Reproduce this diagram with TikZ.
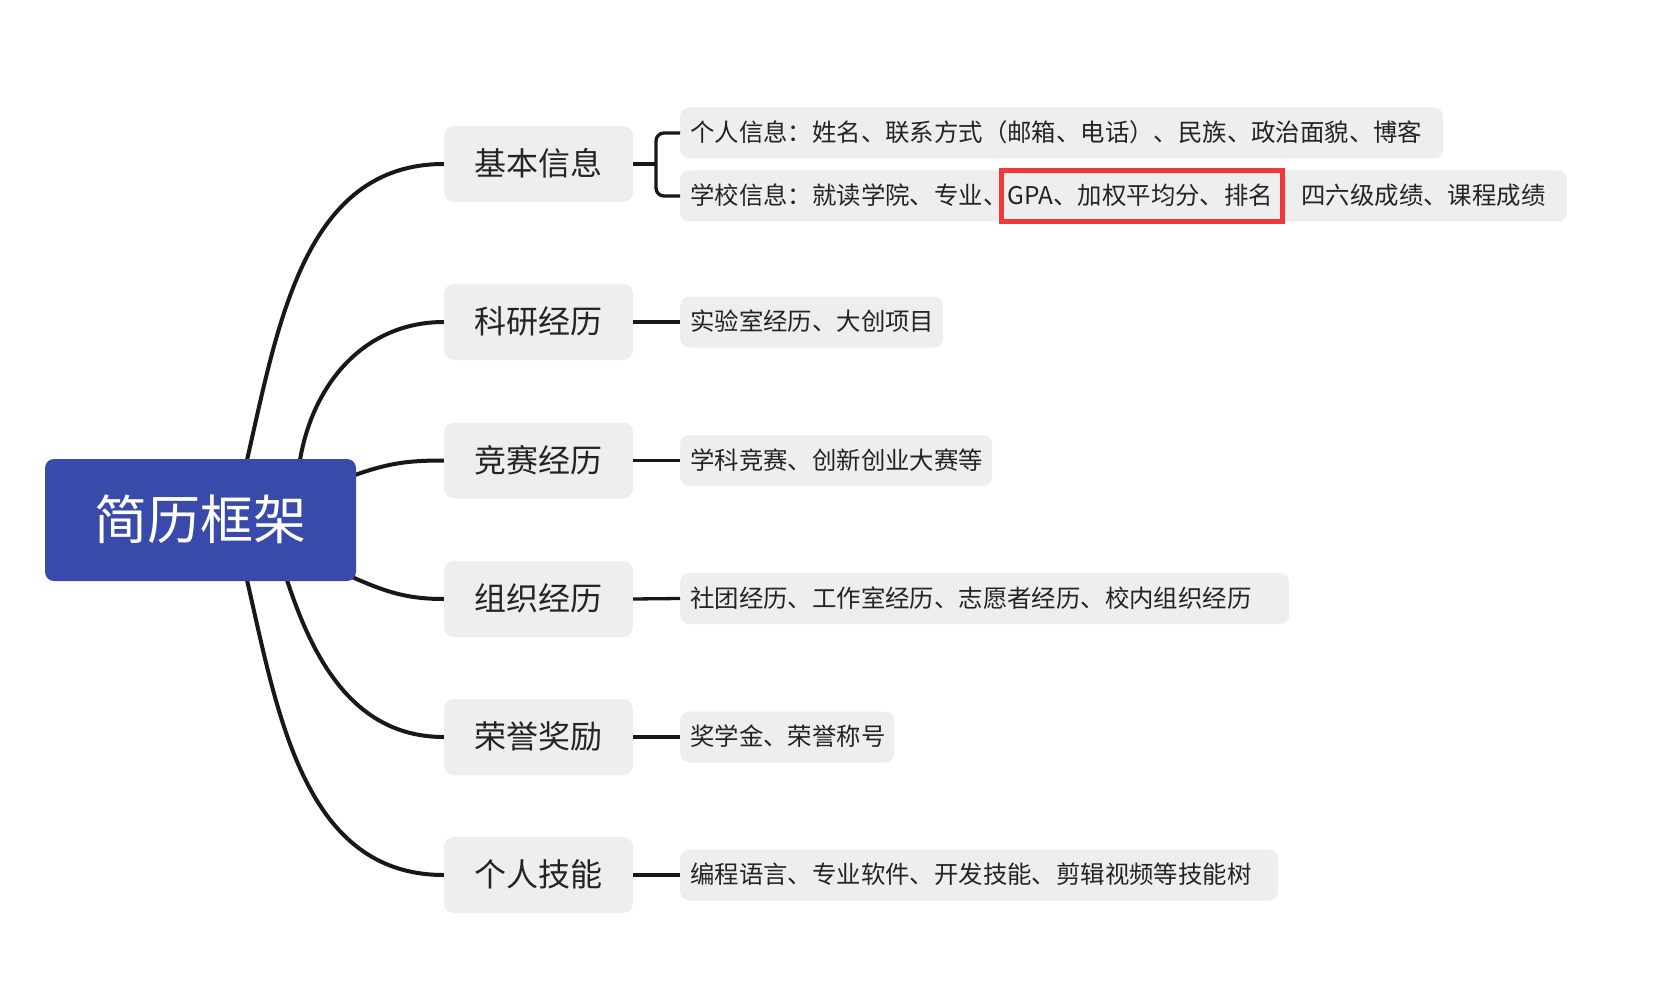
\documentclass[tikz,border=0pt]{standalone}
\usepackage{fontspec}
\newfontfamily\cjk{Noto Sans CJK SC}
\usetikzlibrary{fit,backgrounds}
\definecolor{rootblue}{RGB}{58,74,170}
\definecolor{boxgray}{RGB}{238,238,238}
\definecolor{inkdark}{RGB}{36,36,36}
\definecolor{linedark}{RGB}{24,24,24}
\definecolor{hlred}{RGB}{242,56,56}
\begin{document}
\begin{tikzpicture}[x=1pt,y=-1pt,
  rootbox/.style={fill=rootblue,rounded corners=9pt,minimum width=311pt,minimum height=122pt,inner sep=0pt,text=white,text height=45.6pt,text depth=7.4pt,font=\cjk\fontsize{53}{60}\selectfont},
  mainbox/.style={fill=boxgray,rounded corners=10pt,minimum width=189pt,minimum height=76pt,inner sep=0pt,text=inkdark,text height=27.5pt,text depth=4.5pt,font=\cjk\fontsize{32}{38}\selectfont},
  subbox/.style={fill=boxgray,rounded corners=9pt,minimum height=51pt,inner sep=0pt,anchor=west},
  subtext/.style={inner sep=0pt,anchor=west,text=inkdark,text height=21pt,text depth=3.4pt,font=\cjk\fontsize{24.4}{29}\selectfont},
  branch/.style={draw=linedark,line width=4pt},
  twig/.style={draw=linedark,line width=3.3pt},
  hlbox/.style={draw=hlred,line width=5pt,inner xsep=6pt,inner ysep=13pt}
]
\useasboundingbox (0,0) rectangle (1658,1003);

% root and main topics
\node[rootbox] (root) at (200.5,520) {简历框架};
\node[mainbox] (m1) at (538.5,164) {基本信息};
\node[mainbox] (m2) at (538.5,322) {科研经历};
\node[mainbox] (m3) at (538.5,460.5) {竞赛经历};
\node[mainbox] (m4) at (538.5,599) {组织经历};
\node[mainbox] (m5) at (538.5,737) {荣誉奖励};
\node[mainbox] (m6) at (538.5,875) {个人技能};

% sub topic boxes
\node[subbox,minimum width=763pt] (s1) at (680,133) {};
\node[subbox,minimum width=887pt] (s2) at (680,196) {};
\node[subbox,minimum width=263pt] (s3) at (680,322) {};
\node[subbox,minimum width=312pt] (s4) at (680,460.5) {};
\node[subbox,minimum width=609pt] (s5) at (680,598.5) {};
\node[subbox,minimum width=214pt] (s6) at (680,737) {};
\node[subbox,minimum width=598pt] (s7) at (680,875) {};

% sub topic texts
\node[subtext] (t1) at ([xshift=10pt]s1.west) {个人信息：姓名、联系方式（邮箱、电话）、民族、政治面貌、博客};
\node[subtext] (t2a) at ([xshift=10pt]s2.west) {学校信息：就读学院、专业、};
\node[subtext] (t2b) at (t2a.east) {GPA、加权平均分、排名};
\node[subtext] (t2c) at ([xshift=28pt]t2b.east) {四六级成绩、课程成绩};
\node[subtext] (t3) at ([xshift=10pt]s3.west) {实验室经历、大创项目};
\node[subtext] (t4) at ([xshift=10pt]s4.west) {学科竞赛、创新创业大赛等};
\node[subtext] (t5) at ([xshift=10pt]s5.west) {社团经历、工作室经历、志愿者经历、校内组织经历};
\node[subtext] (t6) at ([xshift=10pt]s6.west) {奖学金、荣誉称号};
\node[subtext] (t7) at ([xshift=10pt]s7.west) {编程语言、专业软件、开发技能、剪辑视频等技能树};

% red highlight
\coordinate (t2bx) at ([xshift=3pt]t2b.east);
\node[hlbox,fit=(t2b) (t2bx)] (hl) {};

% curved branches from root (behind the boxes)
\coordinate (r1) at (247,460);
\coordinate (r2) at (300,460);
\coordinate (r3) at (355,475);
\coordinate (r4) at (352,577);
\coordinate (r5) at (287,580);
\coordinate (r6) at (247,580);
\begin{scope}[on background layer]
\fill[white] (0,0) rectangle (1658,1003);
\draw[branch] (r1) .. controls (278,325) and (304,164) .. (m1.west);
\draw[branch] (r2) .. controls (313,383) and (365,322) .. (m2.west);
\draw[branch] (r3) .. controls (389,463) and (408,460.5) .. (m3.west);
\draw[branch] (r4) .. controls (386,592) and (407,599) .. (m4.west);
\draw[branch] (r5) .. controls (314,663) and (356,737) .. (m5.west);
\draw[branch] (r6) .. controls (278,715) and (304,875) .. (m6.west);
\end{scope}

% connectors to sub topics
\draw[twig] (m1.east) -- ([xshift=-24pt]s1.west |- m1.east);
\draw[twig,rounded corners=8pt] (s1.west) -- ++(-24,0) |- (s2.west);
\draw[twig] (m2.east) -- (s3.west);
\draw[twig] (m3.east) -- (s4.west);
\draw[twig] (m4.east) -- (s5.west);
\draw[twig] (m5.east) -- (s6.west);
\draw[twig] (m6.east) -- (s7.west);
\end{tikzpicture}
\end{document}
